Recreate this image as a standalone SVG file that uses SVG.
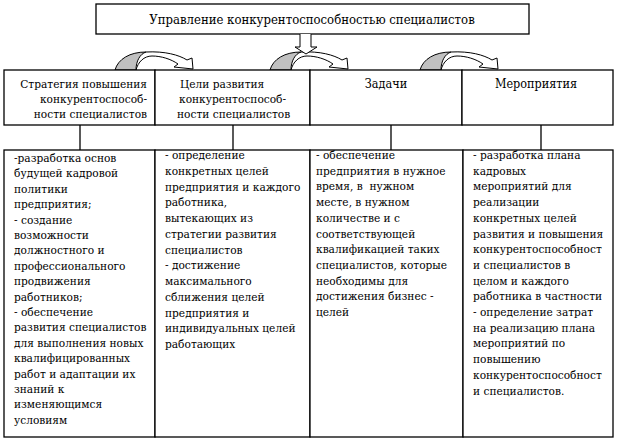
<svg xmlns="http://www.w3.org/2000/svg" width="617" height="442" viewBox="0 0 617 442" font-family="DejaVu Serif Condensed, DejaVu Serif, serif" font-size="11.8">
<style>
  .box { fill: #fff; stroke: #000; stroke-width: 1.3; }
  .ln { stroke: #000; stroke-width: 1.3; fill: none; }
  .gray { fill: #c0c0c0; stroke: #000; stroke-width: 1; }
  .wh { fill: #fff; stroke: #000; stroke-width: 1; }
  text { font-stretch: condensed; }
</style>
<defs>
  <g id="curl">
    <path class="wh" d="M31,52 C50,51 64,55 72,60 L77,58 L78,69 L59,67 L63,64 C56,59 46,56 37,56 C29,56 23,62 21,70"/>
    <path class="gray" d="M0,70 C3,59 15,52 31,52 C25,54 21,61 21,70 Z"/>
  </g>
</defs>

<g id="title">
  <rect class="box" x="96" y="4" width="433" height="30"/>
  <text x="312" y="24" text-anchor="middle" font-size="13">Управление конкурентоспособностью специалистов</text>
</g>

<g id="connectors">
  <use href="#curl" x="115" y="0"/>
  <use href="#curl" x="270" y="0"/>
  <use href="#curl" x="420" y="0"/>
  <path class="wh" d="M300,34 L300,47 L295,47 L306,54 L317,47 L311,47 L311,34"/>
  <line class="ln" x1="80" y1="125" x2="80" y2="150"/>
  <line class="ln" x1="233" y1="125" x2="233" y2="150"/>
  <line class="ln" x1="391" y1="125" x2="391" y2="150"/>
  <line class="ln" x1="541" y1="125" x2="541" y2="150"/>
</g>

<g id="h1">
  <rect class="box" x="4" y="70" width="151" height="55"/>
  <text x="147" y="88" text-anchor="end">Стратегия повышения</text>
  <text x="147" y="103" text-anchor="end">конкурентоспособ-</text>
  <text x="147" y="118" text-anchor="end">ности специалистов</text>
</g>
<g id="h2">
  <rect class="box" x="155" y="70" width="155" height="55"/>
  <text x="180" y="88">Цели развития</text>
  <text x="179" y="103">конкурентоспособ-</text>
  <text x="177" y="118">ности специалистов</text>
</g>
<g id="h3">
  <rect class="box" x="310" y="70" width="152" height="55"/>
  <text x="386" y="88" text-anchor="middle" font-size="12.5">Задачи</text>
</g>
<g id="h4">
  <rect class="box" x="462" y="70" width="151" height="55"/>
  <text x="536" y="88" text-anchor="middle" font-size="12.5">Мероприятия</text>
</g>

<g id="c1">
  <rect class="box" x="4" y="150" width="151" height="287"/>
  <text x="14" y="162">-разработка основ</text>
  <text x="14" y="177.4">будущей кадровой</text>
  <text x="14" y="192.8">политики</text>
  <text x="14" y="208.2">предприятия;</text>
  <text x="14" y="223.6">- создание</text>
  <text x="14" y="239">возможности</text>
  <text x="14" y="254.4">должностного и</text>
  <text x="14" y="269.8">профессионального</text>
  <text x="14" y="285.2">продвижения</text>
  <text x="14" y="300.6">работников;</text>
  <text x="14" y="316">- обеспечение</text>
  <text x="14" y="331.4">развития специалистов</text>
  <text x="14" y="346.8">для выполнения новых</text>
  <text x="14" y="362.2">квалифицированных</text>
  <text x="14" y="377.6">работ и адаптации их</text>
  <text x="14" y="393">знаний к</text>
  <text x="14" y="408.4">изменяющимся</text>
  <text x="14" y="423.8">условиям</text>
</g>
<g id="c2">
  <rect class="box" x="155" y="150" width="155" height="287"/>
  <text x="165" y="159">- определение</text>
  <text x="165" y="174.8">конкретных целей</text>
  <text x="165" y="190.5">предприятия и каждого</text>
  <text x="165" y="206.3">работника,</text>
  <text x="165" y="222">вытекающих из</text>
  <text x="165" y="237.8">стратегии развития</text>
  <text x="165" y="253.5">специалистов</text>
  <text x="165" y="269.3">- достижение</text>
  <text x="165" y="285">максимального</text>
  <text x="165" y="300.8">сближения целей</text>
  <text x="165" y="316.5">предприятия и</text>
  <text x="165" y="332.3">индивидуальных целей</text>
  <text x="165" y="348">работающих</text>
</g>
<g id="c3">
  <rect class="box" x="310" y="150" width="153" height="287"/>
  <text x="316" y="159">- обеспечение</text>
  <text x="316" y="174.7">предприятия в нужное</text>
  <text x="316" y="190.4" xml:space="preserve">время, в  нужном</text>
  <text x="316" y="206.1">месте, в нужном</text>
  <text x="316" y="221.8">количестве и с</text>
  <text x="316" y="237.5">соответствующей</text>
  <text x="316" y="253.2">квалификацией таких</text>
  <text x="316" y="268.9">специалистов, которые</text>
  <text x="316" y="284.6">необходимы для</text>
  <text x="316" y="300.3">достижения бизнес -</text>
  <text x="316" y="316">целей</text>
</g>
<g id="c4">
  <rect class="box" x="463" y="150" width="150" height="287"/>
  <text x="473" y="159">- разработка плана</text>
  <text x="473" y="174.7">кадровых</text>
  <text x="473" y="190.4">мероприятий для</text>
  <text x="473" y="206.1">реализации</text>
  <text x="473" y="221.8">конкретных целей</text>
  <text x="473" y="237.5">развития и повышения</text>
  <text x="473" y="253.2">конкурентоспособност</text>
  <text x="473" y="268.9">и специалистов в</text>
  <text x="473" y="284.6">целом и каждого</text>
  <text x="473" y="300.3">работника в частности</text>
  <text x="473" y="316">- определение затрат</text>
  <text x="473" y="331.7">на реализацию плана</text>
  <text x="473" y="347.4">мероприятий по</text>
  <text x="473" y="363.1">повышению</text>
  <text x="473" y="378.8">конкурентоспособност</text>
  <text x="473" y="394.5">и специалистов.</text>
</g>
</svg>
